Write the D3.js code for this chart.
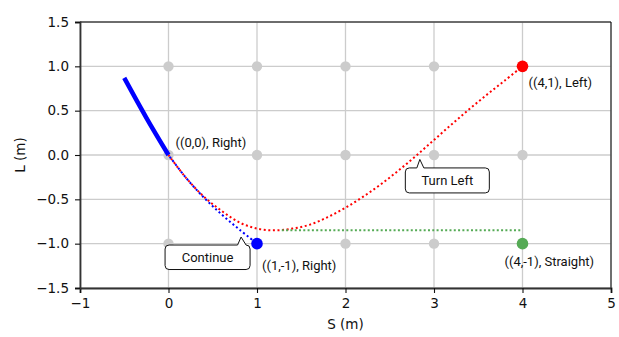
<!DOCTYPE html>
<html><head><meta charset="utf-8">
<script src="https://cdn.jsdelivr.net/npm/d3@7"></script>
<style>body{margin:0;background:#fff}svg{display:block}</style>
</head><body><svg id="c" width="619" height="337"></svg>
<script>
// ---- data ----
const xTicks = [-1, 0, 1, 2, 3, 4, 5];
const yTicks = [-1.5, -1.0, -0.5, 0.0, 0.5, 1.0, 1.5];
const latticeS = [0, 1, 2, 3, 4];
const latticeL = [-1, 0, 1];
// thick blue (travelled) path
const travelS = [-0.5, -0.25, 0];
const travelL = [0.87, 0.42, 0];
// blue dotted candidate (Continue)
const blueS = [0, 0.2, 0.4, 0.6, 0.8, 1.0];
const blueL = [0, -0.26, -0.48, -0.67, -0.84, -1.0];
// red dotted candidate (Turn Left)
const redS = [0, 0.2, 0.4, 0.6, 0.8, 1.0, 1.2, 1.4, 1.6, 1.8, 2.0, 2.2, 2.4, 2.6, 2.8, 3.0, 3.2, 3.4, 3.6, 3.8, 4.0];
const redL = [0, -0.26, -0.47, -0.63, -0.76, -0.83, -0.85, -0.83, -0.785, -0.70, -0.595, -0.47, -0.33, -0.174, -0.006, 0.17, 0.346, 0.518, 0.682, 0.84, 1.0];
// green dotted candidate (Straight)
const greenS = [1.28, 4.0];
const greenL = [-0.85, -0.85];
// highlighted states
const states = [
  {s: 4, l: 1, color: "#ff0000", label: "((4,1), Left)", dx: 6, dy: 21},
  {s: 1, l: -1, color: "#0000ff", label: "((1,-1), Right)", dx: 5, dy: 26},
  {s: 4, l: -1, color: "#55aa55", label: "((4,-1), Straight)", dx: -18, dy: 22},
];
const originLabel = {s: 0, l: 0, label: "((0,0), Right)", dx: 7, dy: -8};
const callouts = [
  {text: "Continue", s: 0.82, l: -0.925},
  {text: "Turn Left", s: 2.84, l: -0.05},
];

// ---- layout ----
const svg = d3.select("#c");
const L = 80, R = 611, T = 22, B = 288;
const x = d3.scaleLinear().domain([-1, 5]).range([L, R]);
const y = d3.scaleLinear().domain([-1.5, 1.5]).range([B, T]);
const tickFont = "DejaVu Sans, sans-serif";
const lblFont = "Roboto, 'Noto Sans', sans-serif";

// grid
const g = svg.append("g");
g.selectAll(".vx").data(xTicks).join("line")
  .attr("x1", d => x(d)).attr("x2", d => x(d)).attr("y1", T).attr("y2", B)
  .attr("stroke", "#cccccc").attr("stroke-width", 1.3);
g.selectAll(".hy").data(yTicks).join("line")
  .attr("y1", d => y(d)).attr("y2", d => y(d)).attr("x1", L).attr("x2", R)
  .attr("stroke", "#cccccc").attr("stroke-width", 1.3);

// lattice grey points
const lattice = [];
latticeS.forEach(s => latticeL.forEach(l => lattice.push([s, l])));
svg.append("g").selectAll("circle").data(lattice).join("circle")
  .attr("cx", d => x(d[0])).attr("cy", d => y(d[1])).attr("r", 5.2).attr("fill", "#cccccc");

const line = d3.line().x(d => x(d[0])).y(d => y(d[1])).curve(d3.curveCatmullRom.alpha(0.5));
const zip = (a, b) => a.map((v, i) => [v, b[i]]);

// dotted candidates
svg.append("path").attr("d", line(zip(redS, redL))).attr("fill", "none")
  .attr("stroke", "#ff0000").attr("stroke-width", 2).attr("stroke-dasharray", "2,2.6");
svg.append("path").attr("d", line(zip(greenS, greenL))).attr("fill", "none")
  .attr("stroke", "#55aa55").attr("stroke-width", 2).attr("stroke-dasharray", "2,2.3");
svg.append("path").attr("d", line(zip(blueS, blueL))).attr("fill", "none")
  .attr("stroke", "#0000ff").attr("stroke-width", 2).attr("stroke-dasharray", "2,2.6").attr("stroke-dashoffset", 2.3);
// travelled thick path
svg.append("path").attr("d", line(zip(travelS, travelL))).attr("fill", "none")
  .attr("stroke", "#0000ff").attr("stroke-width", 4.5);

// highlighted states
svg.append("g").selectAll("circle").data(states).join("circle")
  .attr("cx", d => x(d.s)).attr("cy", d => y(d.l)).attr("r", 5.8).attr("fill", d => d.color);

// labels
svg.append("g").selectAll("text").data(states.concat([originLabel])).join("text")
  .attr("x", d => x(d.s) + d.dx).attr("y", d => y(d.l) + d.dy)
  .attr("font-family", lblFont).attr("font-size", 13).attr("fill", "#111")
  .text(d => d.label);

// callouts
const cg = svg.append("g");
callouts.forEach(c => {
  const tx = x(c.s), ty = y(c.l);
  const t = cg.append("text").attr("font-family", lblFont).attr("font-size", 13).attr("fill", "#111")
    .attr("text-anchor", "middle").text(c.text);
  let bx0, bx1, by0, by1, px0, px1;
  if (c.text === "Continue") {
    bx0 = tx - 76; bx1 = tx + 9; by0 = ty + 8; by1 = ty + 32.5; px0 = tx - 3.5; px1 = tx + 5;
  } else {
    bx0 = tx - 14.5; bx1 = tx + 69.5; by0 = ty + 8.5; by1 = ty + 33.5; px0 = tx - 3; px1 = tx + 4;
  }
  const r = 4;
  const p = `M${bx0 + r},${by0} L${px0},${by0} L${tx},${ty} L${px1},${by0} L${bx1 - r},${by0} Q${bx1},${by0} ${bx1},${by0 + r} L${bx1},${by1 - r} Q${bx1},${by1} ${bx1 - r},${by1} L${bx0 + r},${by1} Q${bx0},${by1} ${bx0},${by1 - r} L${bx0},${by0 + r} Q${bx0},${by0} ${bx0 + r},${by0} Z`;
  cg.insert("path", "text").attr("d", p).attr("fill", "#fff").attr("stroke", "#111").attr("stroke-width", 1);
  t.attr("x", (bx0 + bx1) / 2).attr("y", (by0 + by1) / 2 + 4.5);
});

// spines
svg.append("line").attr("x1", L).attr("x2", R).attr("y1", T).attr("y2", T).attr("stroke", "#000").attr("stroke-width", 1);
svg.append("line").attr("x1", R).attr("x2", R).attr("y1", T).attr("y2", B).attr("stroke", "#000").attr("stroke-width", 1);

// axes
const xAxis = svg.append("g").attr("transform", `translate(0,${B})`)
  .call(d3.axisBottom(x).tickValues(xTicks).tickFormat(d3.format("d")).tickSize(5).tickPadding(5));
const yAxis = svg.append("g").attr("transform", `translate(${L},0)`)
  .call(d3.axisLeft(y).tickValues(yTicks).tickFormat(d3.format(".1f")).tickSize(5).tickPadding(6));
[xAxis, yAxis].forEach(a => {
  a.selectAll("text").attr("font-family", tickFont).attr("font-size", 13.5).attr("fill", "#111");
  a.selectAll("line").attr("stroke", "#111").attr("stroke-width", 1.1);
  a.select(".domain").attr("stroke", "#333").attr("stroke-width", 1.8);
});

// axis labels
svg.append("text").attr("x", (L + R) / 2).attr("y", 329).attr("text-anchor", "middle")
  .attr("font-family", tickFont).attr("font-size", 13.5).attr("fill", "#111").text("S (m)");
svg.append("text").attr("transform", `translate(25,${(T + B) / 2}) rotate(-90)`).attr("text-anchor", "middle")
  .attr("font-family", tickFont).attr("font-size", 13.5).attr("fill", "#111").text("L (m)");
</script></body></html>
